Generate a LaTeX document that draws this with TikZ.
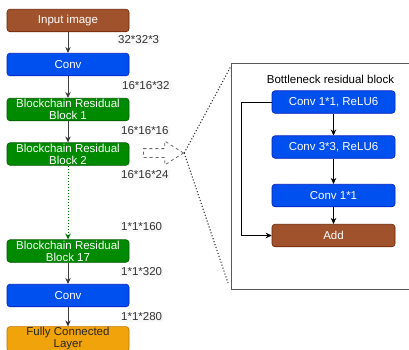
\documentclass[tikz,border=0pt]{standalone}
\usepackage{fontspec}
\setmainfont{Liberation Sans}
\usepackage{tikz}
\usetikzlibrary{positioning, shapes.arrows, arrows.meta, calc}

\definecolor{inbrown}{HTML}{A0522D}
\definecolor{inbrownline}{HTML}{6D1F00}
\definecolor{convblue}{HTML}{0050EF}
\definecolor{convblueline}{HTML}{001DBC}
\definecolor{resgreen}{HTML}{008A00}
\definecolor{resgreenline}{HTML}{005700}
\definecolor{fcorange}{HTML}{F0A30A}
\definecolor{fcorangeline}{HTML}{BD7000}

\begin{document}
\begin{tikzpicture}[
    x=1pt, y=-1pt,
    >={Stealth[length=6pt,width=5.5pt]},
    font=\fontsize{11.5}{12}\selectfont,
    layer/.style={draw, rounded corners=3pt, minimum width=122pt, minimum height=22.5pt,
        inner sep=1pt, align=center, text=white, line width=0.6pt},
    inputlayer/.style={layer, fill=inbrown, draw=inbrownline},
    convlayer/.style={layer, fill=convblue, draw=convblueline},
    reslayer/.style={layer, fill=resgreen, draw=resgreenline},
    fclayer/.style={layer, fill=fcorange, draw=fcorangeline, text=black!85},
    shape label/.style={fill=gray!6, inner sep=1pt, anchor=west, text=black!80},
    flow/.style={->, draw=black!75, line width=0.7pt},
    skipflow/.style={->, dotted, line width=1pt, draw=green!45!black},
    zoomline/.style={dotted, draw=black!80, line width=1.1pt}
]
    \useasboundingbox (0,0) rectangle (409,349);

    % Main network, top to bottom
    \node[inputlayer] (input) at (68,20.5) {Input image};
    \node[convlayer] (conv1) at (68,64.5) {Conv};
    \node[reslayer] (res1) at (68,109.5) {Blockchain Residual\\Block 1};
    \node[reslayer] (res2) at (68,154) {Blockchain Residual\\Block 2};
    \node[reslayer] (res17) at (68,251) {Blockchain Residual\\Block 17};
    \node[convlayer] (conv2) at (68,295.5) {Conv};
    \node[fclayer] (fc) at (68,339) {Fully Connected\\Layer};

    % Tensor sizes between layers
    \node[shape label] (sz1) at (117,40) {32*32*3};
    \node[shape label] (sz2) at (121,86) {16*16*32};
    \node[shape label] (sz3) at (120,131) {16*16*16};
    \node[shape label] (sz4) at (120,175) {16*16*24};
    \node[shape label] (sz5) at (120,227) {1*1*160};
    \node[shape label] (sz6) at (120,272) {1*1*320};
    \node[shape label] (sz7) at (120,317) {1*1*280};

    \path[flow]
        (input) edge (conv1)
        (conv1) edge (res1)
        (res1) edge (res2)
        (res17) edge (conv2)
        (conv2) edge (fc);
    % Blocks 3 to 16 left out
    \draw[skipflow] (res2) -- (res17);

    % Zoom into one block
    \node[single arrow, draw=black!60, dashed, line width=0.8pt, minimum height=40pt,
        inner xsep=0pt, inner ysep=4pt, single arrow head extend=7.5pt,
        single arrow tip angle=65] (zoomarrow) at (160,153) {};
    \coordinate (zoomtop) at (231,66);
    \coordinate (zoombot) at (228,283);
    \draw[zoomline] (zoomarrow.tip) -- (zoomtop);
    \draw[zoomline] (zoomarrow.tip) -- (zoombot);

    % Detail of the bottleneck residual block
    \draw[draw=black!65, line width=0.9pt] (231,63) rectangle (420,289);
    \node (title) at (330.5,79) {Bottleneck residual block};
    \node[convlayer, minimum width=123pt] (bconv1) at (333.5,102) {Conv 1*1, ReLU6};
    \node[convlayer, minimum width=123pt] (bconv3) at (333.5,147) {Conv 3*3, ReLU6};
    \node[convlayer, minimum width=123pt] (bconv11) at (333.5,195.5) {Conv 1*1};
    \node[inputlayer, minimum width=123pt] (badd) at (333.5,235.5) {Add};

    \path[flow, draw=black]
        (bconv1) edge (bconv3)
        (bconv3) edge (bconv11)
        (bconv11) edge (badd);
    % Shortcut connection
    \draw[flow, draw=black] (bconv1.west) -- (241,102) -- (241,235.5) -- (badd.west);
\end{tikzpicture}
\end{document}
